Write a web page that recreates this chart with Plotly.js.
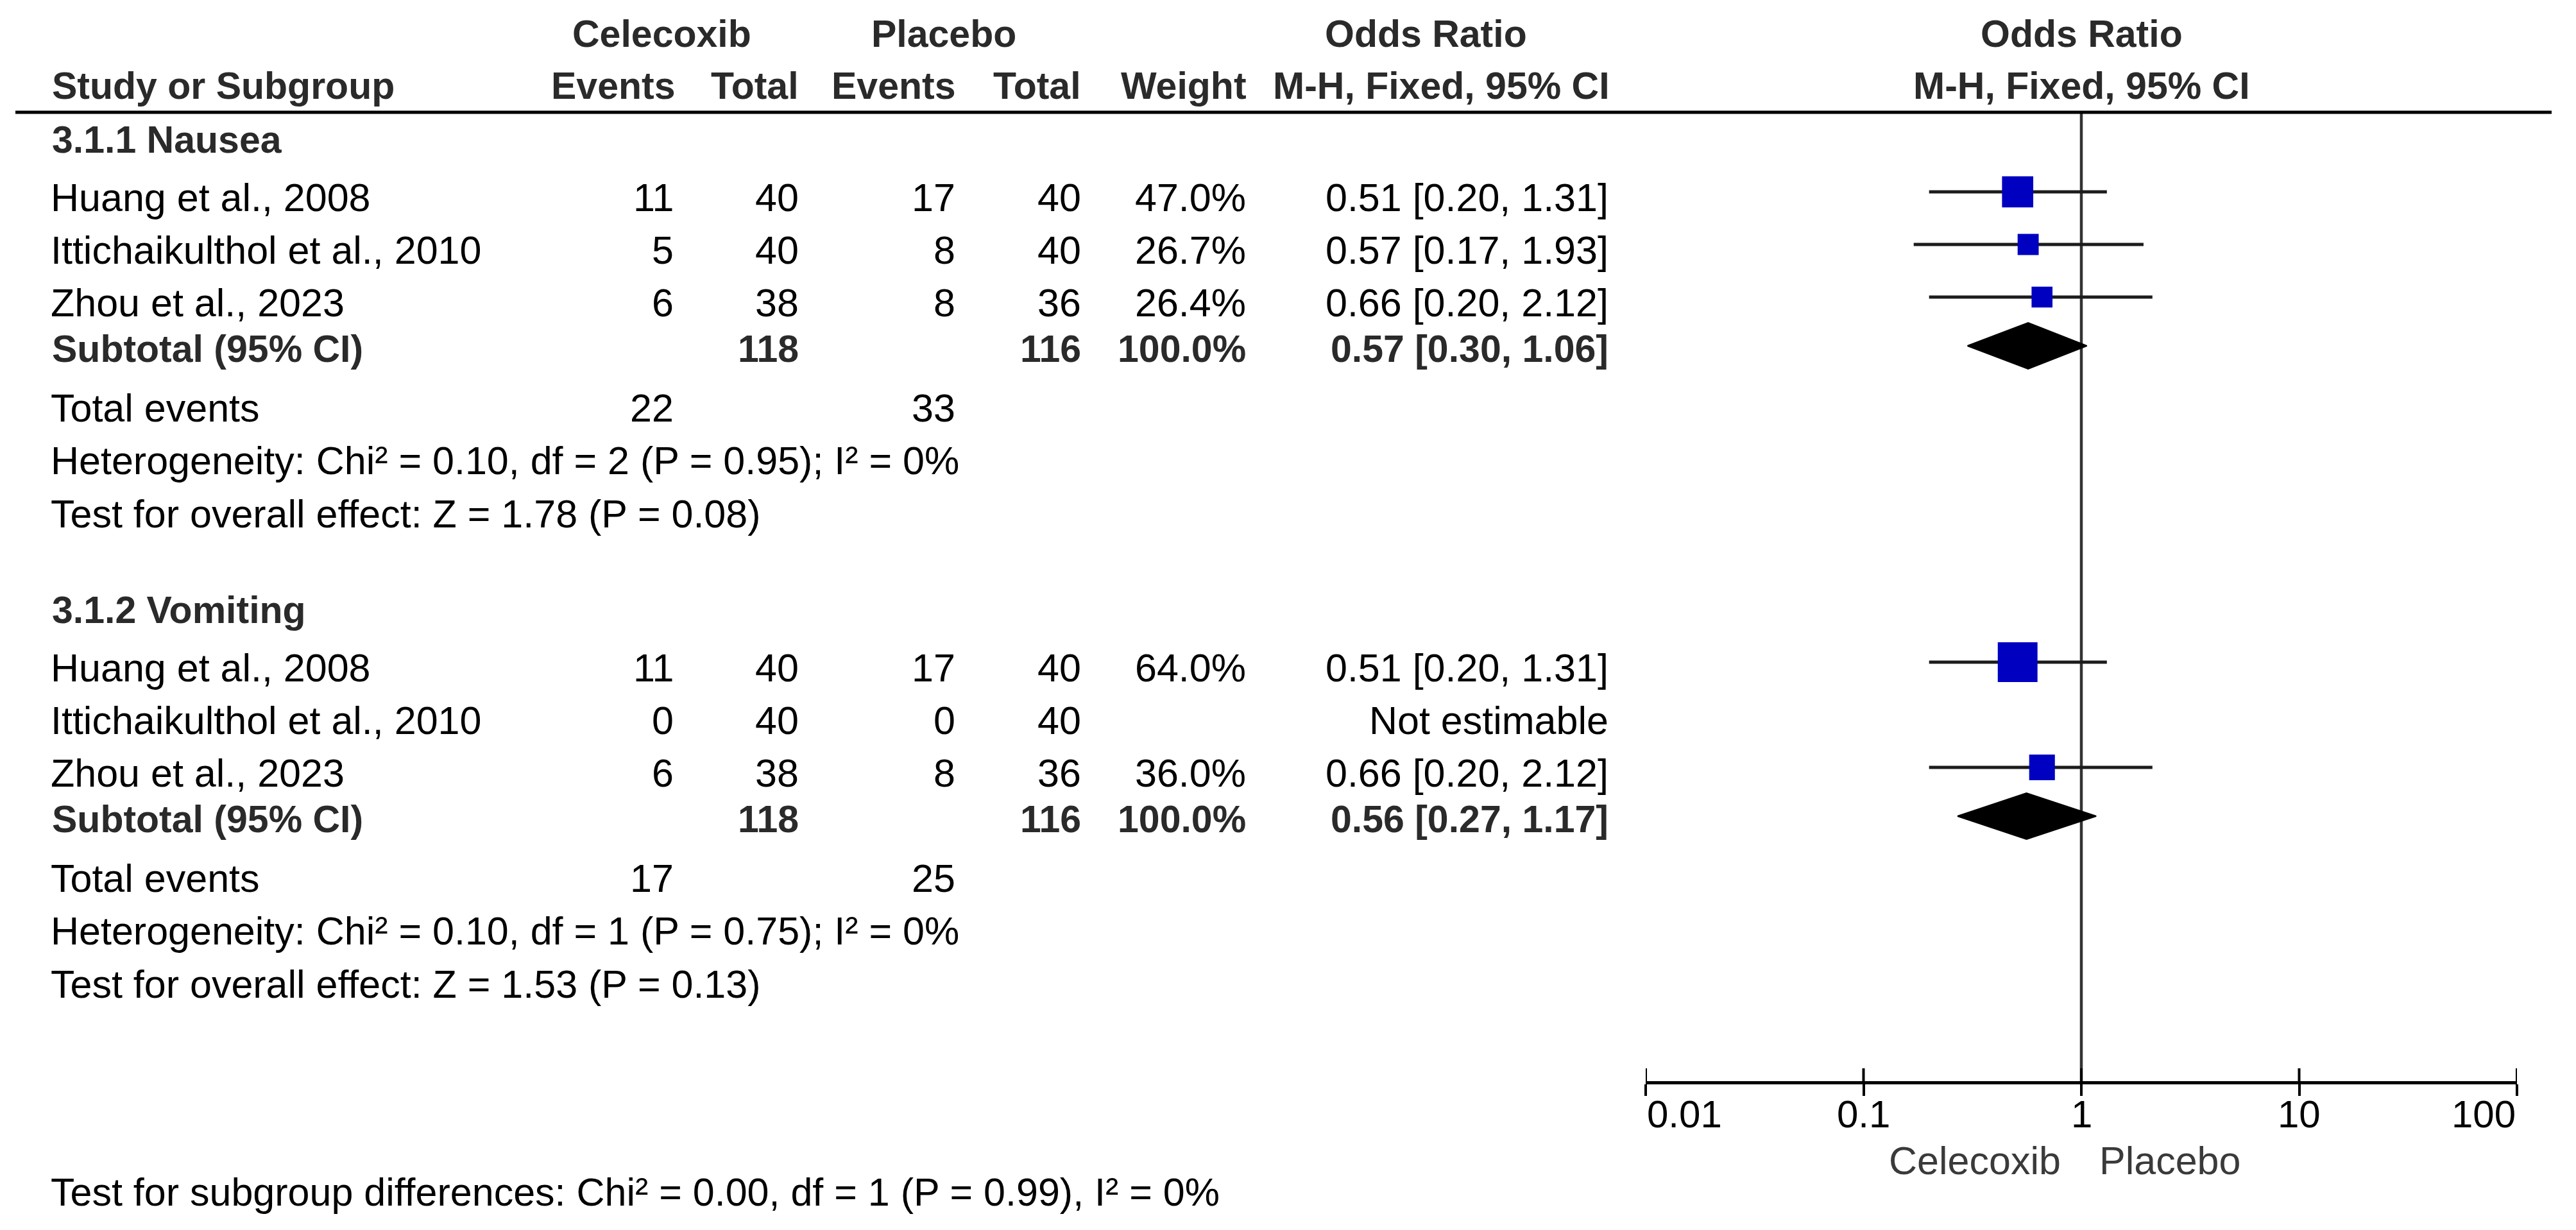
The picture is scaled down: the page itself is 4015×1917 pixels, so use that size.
<!DOCTYPE html>
<html>
<head>
<meta charset="utf-8">
<script src="https://cdn.plot.ly/plotly-3.0.1.min.js"></script>
<style>
  html, body { margin: 0; padding: 0; background: #ffffff; }
  #chart { width: 4015px; height: 1917px; }
</style>
</head>
<body>
<div id="chart"></div>
<script>
// ---------------- DATA ----------------
const studyNames = ["Huang et al., 2008", "Ittichaikulthol et al., 2010", "Zhou et al., 2023"];
const subgroupNames = ["3.1.1 Nausea", "3.1.2 Vomiting"];

const nauseaCelEvents = [11, 5, 6];
const nauseaCelTotal  = [40, 40, 38];
const nauseaPlaEvents = [17, 8, 8];
const nauseaPlaTotal  = [40, 40, 36];
const nauseaWeight    = [47.0, 26.7, 26.4];
const nauseaOR        = [0.51, 0.57, 0.66];
const nauseaLo        = [0.20, 0.17, 0.20];
const nauseaHi        = [1.31, 1.93, 2.12];

const vomitCelEvents = [11, 0, 6];
const vomitCelTotal  = [40, 40, 38];
const vomitPlaEvents = [17, 0, 8];
const vomitPlaTotal  = [40, 40, 36];
const vomitWeight    = [64.0, null, 36.0];
const vomitOR        = [0.51, null, 0.66];
const vomitLo        = [0.20, null, 0.20];
const vomitHi        = [1.31, null, 2.12];

const subtotalCelTotal = [118, 118];
const subtotalPlaTotal = [116, 116];
const subtotalWeight   = [100.0, 100.0];
const subtotalOR       = [0.57, 0.56];
const subtotalLo       = [0.30, 0.27];
const subtotalHi       = [1.06, 1.17];
const totalEventsCel   = [22, 17];
const totalEventsPla   = [33, 25];
const heterogeneityText = [
  "Heterogeneity: Chi² = 0.10, df = 2 (P = 0.95); I² = 0%",
  "Heterogeneity: Chi² = 0.10, df = 1 (P = 0.75); I² = 0%"
];
const overallEffectText = [
  "Test for overall effect: Z = 1.78 (P = 0.08)",
  "Test for overall effect: Z = 1.53 (P = 0.13)"
];
const subgroupTestText = "Test for subgroup differences: Chi² = 0.00, df = 1 (P = 0.99), I² = 0%";
const tickVals   = [0.01, 0.1, 1, 10, 100];
const tickLabels = ["0.01", "0.1", "1", "10", "100"];
const favourLabels = ["Celecoxib", "Placebo"];

const groups = [
  {name: subgroupNames[0], ce: nauseaCelEvents, ct: nauseaCelTotal, pe: nauseaPlaEvents, pt: nauseaPlaTotal,
   w: nauseaWeight, or: nauseaOR, lo: nauseaLo, hi: nauseaHi},
  {name: subgroupNames[1], ce: vomitCelEvents, ct: vomitCelTotal, pe: vomitPlaEvents, pt: vomitPlaTotal,
   w: vomitWeight, or: vomitOR, lo: vomitLo, hi: vomitHi}
];

// ---------------- LAYOUT GEOMETRY ----------------
const W = 4015, H = 1917;
const FONT = "Liberation Sans, Arial, Helvetica, sans-serif";
const REG = 61, BOLD = 59, TICKF = 60;
const BOLDCOL = "#2a2a2a";
const col = {name: 77, celEv: 1052, celTot: 1247, plaEv: 1491, plaTot: 1687, weight: 1944, orText: 2509};
const RULE_Y = 175, AXIS_Y = 1687, AXIS_LW = 5;
const PLOT_X0 = 2565, PLOT_X1 = 3923;

const px = x => x / W;
const py = y => 1 - y / H;

const annotations = [];
function T(text, x, y, anchor, opt) {
  opt = opt || {};
  annotations.push({
    text: opt.bold ? "<b>" + text + "</b>" : text,
    xref: opt.xref || "paper", yref: "paper",
    x: opt.xref ? x : px(x), y: py(y),
    xanchor: anchor, yanchor: "middle", showarrow: false,
    xshift: opt.xshift || 0,
    font: {family: FONT, size: opt.size || (opt.bold ? BOLD : REG), color: opt.color || (opt.bold ? BOLDCOL : "#000000")}
  });
}
const fmtOR = (o, l, h) => o.toFixed(2) + " [" + l.toFixed(2) + ", " + h.toFixed(2) + "]";

// headers
T("Celecoxib", 1031, 53, "center", {bold: true});
T("Placebo", 1471, 53, "center", {bold: true});
T("Odds Ratio", 2222, 53, "center", {bold: true});
T("Study or Subgroup", 79, 134, "left", {bold: true});
T("Events", col.celEv + 2, 134, "right", {bold: true});
T("Total", col.celTot, 134, "right", {bold: true});
T("Events", col.plaEv, 134, "right", {bold: true});
T("Total", col.plaTot, 134, "right", {bold: true});
T("Weight", col.weight + 1, 134, "right", {bold: true});
T("M-H, Fixed, 95% CI", col.orText + 2, 134, "right", {bold: true});
T("Odds Ratio", Math.log10(1), 53, "center", {bold: true, xref: "x"});
T("M-H, Fixed, 95% CI", Math.log10(1), 134, "center", {bold: true, xref: "x"});

// rows
const ciX = [], ciY = [], sqX = [], sqY = [], sqS = [];
const diamonds = [];
let y = 218;
groups.forEach((g, gi) => {
  if (gi > 0) y += 150;
  T(g.name, 79, y, "left", {bold: true});
  y += 90;
  for (let i = 0; i < studyNames.length; i++) {
    if (i > 0) y += 82;
    T(studyNames[i], col.name, y, "left");
    T(String(g.ce[i]), col.celEv, y, "right");
    T(String(g.ct[i]), col.celTot, y, "right");
    T(String(g.pe[i]), col.plaEv, y, "right");
    T(String(g.pt[i]), col.plaTot, y, "right");
    if (g.w[i] !== null) T(g.w[i].toFixed(1) + "%", col.weight, y, "right");
    if (g.or[i] !== null) {
      T(fmtOR(g.or[i], g.lo[i], g.hi[i]), col.orText, y, "right");
      ciX.push(g.lo[i], g.hi[i], null); ciY.push(y - 9, y - 9, null);
      sqX.push(g.or[i]); sqY.push(y - 9); sqS.push(12 + 0.78 * g.w[i]);
    } else {
      T("Not estimable", col.orText, y, "right");
    }
  }
  y += 72;
  T("Subtotal (95% CI)", 79, y, "left", {bold: true});
  T(String(subtotalCelTotal[gi]), col.celTot, y, "right", {bold: true});
  T(String(subtotalPlaTotal[gi]), col.plaTot, y, "right", {bold: true});
  T(subtotalWeight[gi].toFixed(1) + "%", col.weight, y, "right", {bold: true});
  T(fmtOR(subtotalOR[gi], subtotalLo[gi], subtotalHi[gi]), col.orText, y, "right", {bold: true});
  diamonds.push({o: subtotalOR[gi], l: subtotalLo[gi], h: subtotalHi[gi], y: y - 5});
  y += 92;
  T("Total events", col.name, y, "left");
  T(String(totalEventsCel[gi]), col.celEv, y, "right");
  T(String(totalEventsPla[gi]), col.plaEv, y, "right");
  y += 82;
  T(heterogeneityText[gi], col.name, y, "left");
  y += 83;
  T(overallEffectText[gi], col.name, y, "left");
});
T(subgroupTestText, col.name, 1858, "left");

// axis tick labels
const tickAnchors = ["left", "center", "center", "center", "right"];
tickVals.forEach((v, i) => T(tickLabels[i], Math.log10(v), 1736, tickAnchors[i], {xref: "x", size: TICKF}));
T(favourLabels[0], Math.log10(1), 1809, "right", {xref: "x", xshift: -30, color: "#3a3a3a"});
T(favourLabels[1], Math.log10(1), 1809, "left", {xref: "x", xshift: 26, color: "#3a3a3a"});

// ---------------- TRACES ----------------
const traces = [];
traces.push({
  type: "scatter", mode: "lines", x: ciX, y: ciY, xaxis: "x", yaxis: "y",
  line: {color: "#1c1c1c", width: 5}, hoverinfo: "skip", showlegend: false, connectgaps: false
});
traces.push({
  type: "scatter", mode: "markers", x: sqX, y: sqY, xaxis: "x", yaxis: "y",
  marker: {symbol: "square", size: sqS, color: "#0000c0", opacity: 1, line: {width: 0}},
  hoverinfo: "skip", showlegend: false
});
const DH = 36;
diamonds.forEach(d => {
  traces.push({
    type: "scatter", mode: "lines", fill: "toself", fillcolor: "#000000",
    x: [d.l, d.o, d.h, d.o, d.l], y: [d.y, d.y - DH, d.y, d.y + DH, d.y],
    line: {color: "#000000", width: 2}, hoverinfo: "skip", showlegend: false
  });
});

// ---------------- SHAPES ----------------
const shapes = [];
shapes.push({type: "line", xref: "paper", yref: "paper", x0: px(24), x1: px(3977), y0: py(RULE_Y), y1: py(RULE_Y),
  line: {color: "#000000", width: 5}});
shapes.push({type: "line", xref: "x", yref: "paper", x0: 1, x1: 1, y0: py(RULE_Y), y1: py(AXIS_Y),
  line: {color: "#333333", width: 4.5}, layer: "below"});
tickVals.forEach(v => shapes.push({type: "line", xref: "x", yref: "paper", x0: v, x1: v,
  y0: py(AXIS_Y), y1: py(AXIS_Y - 22), line: {color: "#000000", width: 4}}));

const yBottom = AXIS_Y - AXIS_LW / 2;
const layout = {
  width: W, height: H,
  margin: {l: 0, r: 0, t: 0, b: 0, pad: 0},
  paper_bgcolor: "#ffffff", plot_bgcolor: "rgba(0,0,0,0)",
  showlegend: false,
  xaxis: {
    type: "log", domain: [px(PLOT_X0), px(PLOT_X1)], range: [Math.log10(tickVals[0]), Math.log10(tickVals[4])],
    showline: true, linecolor: "#000000", linewidth: AXIS_LW,
    ticks: "outside", ticklen: 18, tickwidth: 4, tickcolor: "#000000",
    tickmode: "array", tickvals: tickVals, ticktext: tickLabels, showticklabels: false,
    showgrid: false, zeroline: false, fixedrange: true, anchor: "y"
  },
  yaxis: {
    domain: [py(yBottom), py(RULE_Y)], range: [yBottom, RULE_Y],
    visible: false, showgrid: false, zeroline: false, fixedrange: true
  },
  shapes: shapes,
  annotations: annotations
};

Plotly.newPlot("chart", traces, layout, {staticPlot: true, displayModeBar: false});
</script>
</body>
</html>
